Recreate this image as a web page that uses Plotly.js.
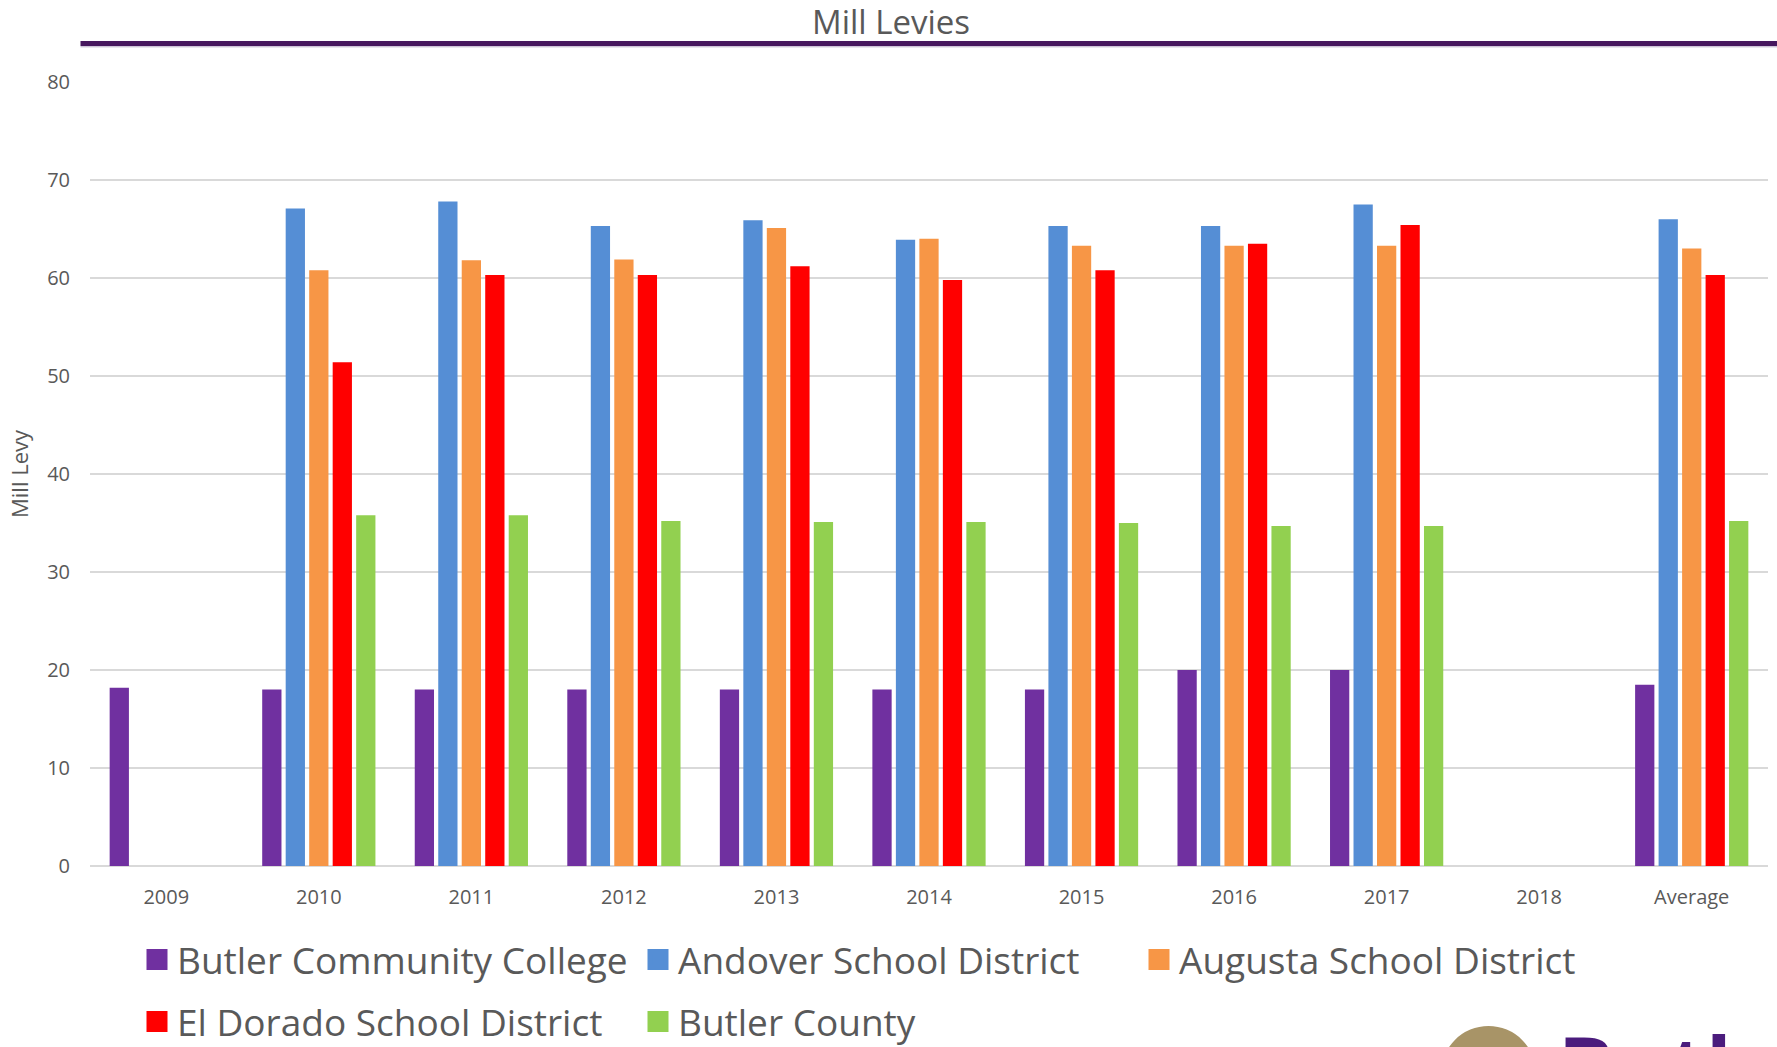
<!DOCTYPE html>
<html><head><meta charset="utf-8">
<script src="https://cdn.plot.ly/plotly-3.0.1.min.js"></script>
<style>html,body{margin:0;padding:0;background:#fff;overflow:hidden;} #chart{width:1777px;height:1047px;}</style>
</head><body><div id="chart"></div>
<script>
// ---- data ----
const categories = ['2009','2010','2011','2012','2013','2014','2015','2016','2017','2018','Average'];
const butlerCC     = [18.2, 18.0, 18.0, 18.0, 18.0, 18.0, 18.0, 20.0, 20.0, null, 18.5];
const andover      = [null, 67.1, 67.8, 65.3, 65.9, 63.9, 65.3, 65.3, 67.5, null, 66.0];
const augusta      = [null, 60.8, 61.8, 61.9, 65.1, 64.0, 63.3, 63.3, 63.3, null, 63.0];
const elDorado     = [null, 51.4, 60.3, 60.3, 61.2, 59.8, 60.8, 63.5, 65.4, null, 60.3];
const butlerCounty = [null, 35.8, 35.8, 35.2, 35.1, 35.1, 35.0, 34.7, 34.7, null, 35.2];
const seriesNames = ['Butler Community College','Andover School District','Augusta School District','El Dorado School District','Butler County'];
const yTickVals = [0,10,20,30,40,50,60,70,80];
const chartTitle = 'Mill Levies';
const yTitle = 'Mill Levy';
const logoText = 'Butler';

// ---- styling ----
const seriesData = [butlerCC, andover, augusta, elDorado, butlerCounty];
const colors = ['#7030A0','#558ED5','#F79646','#FF0000','#92D050'];
const legendOf = ['legend','legend','legend','legend2','legend2'];
const W = 1777, H = 1047;
const mL = 90, mR = 9, mT = 82, mB = 181;
const pL = mL, pR = W - mR, pT = mT, pB = H - mB;
const px = x => (x - pL) / (pR - pL);
const py = y => (pB - y) / (pB - pT);
const txt = '#595959';

const traces = [];
seriesData.forEach((vals, i) => {
  traces.push({
    type: 'bar', name: seriesNames[i], x: categories, y: vals,
    marker: {color: colors[i]}, showlegend: false, hoverinfo: 'x+y+name'
  });
});
seriesData.forEach((vals, i) => {
  traces.push({
    type: 'scatter', mode: 'markers', name: seriesNames[i], x: [null], y: [null],
    marker: {symbol: 'square', size: 16, color: colors[i], line: {color: colors[i], width: 5}},
    legend: legendOf[i], showlegend: true, hoverinfo: 'skip'
  });
});

const legendBase = {
  orientation: 'h', xanchor: 'left', yanchor: 'middle',
  font: {family: 'Open Sans', size: 37, color: txt},
  entrywidth: 456, entrywidthmode: 'pixels',
  bgcolor: 'rgba(0,0,0,0)', borderwidth: 0, itemclick: false, itemdoubleclick: false
};

const layout = {
  width: W, height: H,
  margin: {l: mL, r: mR, t: mT, b: mB, pad: 0, autoexpand: false},
  paper_bgcolor: '#ffffff', plot_bgcolor: '#ffffff',
  font: {family: 'Open Sans', color: txt},
  title: {text: chartTitle, font: {family: 'Open Sans', size: 33, color: txt},
          xref: 'container', x: 891 / W, xanchor: 'center', yref: 'container', y: 1 - 22.7 / H, yanchor: 'middle'},
  barmode: 'group', bargap: 0.23, bargroupgap: 0.18,
  xaxis: {type: 'category', categoryorder: 'array', categoryarray: categories, range: [-0.5, categories.length - 0.5],
          showgrid: false, zeroline: false, showline: false, ticks: '', ticklabelstandoff: 17,
          tickfont: {family: 'Open Sans', size: 20, color: txt}, fixedrange: true},
  yaxis: {range: [0, 80], tickvals: yTickVals, showgrid: true, gridcolor: '#d9d9d9', gridwidth: 1.5,
          zeroline: true, zerolinecolor: '#d9d9d9', zerolinewidth: 1.5, showline: false, ticks: '',
          ticklabelstandoff: 19, tickfont: {family: 'Open Sans', size: 20, color: txt}, fixedrange: true,
          title: {text: yTitle, font: {family: 'Open Sans', size: 22, color: txt}, standoff: 12}},
  legend: Object.assign({}, legendBase, {x: px(137), y: py(960)}),
  legend2: Object.assign({}, legendBase, {x: px(137), y: py(1022)}),
  shapes: [
    {type: 'line', xref: 'paper', yref: 'paper', x0: px(80.5), x1: px(1777), y0: py(43.5), y1: py(43.5),
     line: {color: '#47175E', width: 5}},
    {type: 'line', xref: 'paper', yref: 'paper', x0: px(80.5), x1: px(1777), y0: py(46.8), y1: py(46.8),
     line: {color: '#b9acc6', width: 1}},
    {type: 'circle', xref: 'paper', yref: 'paper', x0: px(1441), x1: px(1536), y0: py(1026), y1: py(1121),
     fillcolor: '#A89467', line: {width: 0}}
  ],
  annotations: [
    {text: logoText, xref: 'paper', yref: 'paper', x: px(1556), y: py(1006), xanchor: 'left', yanchor: 'top',
     showarrow: false, font: {family: 'Open Sans', size: 84, color: '#4B1C7D', weight: 700}}
  ]
};

Plotly.newPlot('chart', traces, layout, {displayModeBar: false, staticPlot: true});
</script>
</body></html>
